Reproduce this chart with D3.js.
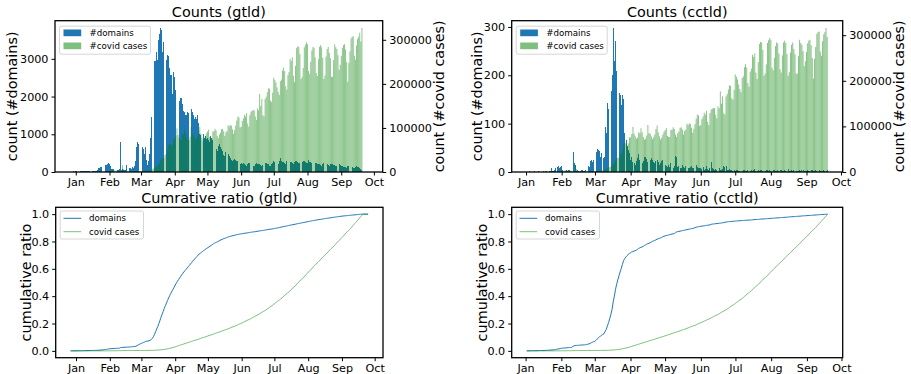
<!DOCTYPE html>
<html><head><meta charset="utf-8">
<script src="https://cdn.jsdelivr.net/npm/d3@7/dist/d3.min.js"></script>
<style>
body{margin:0;background:#fff}
svg{display:block}
text{font-family:"DejaVu Sans",sans-serif;fill:#000}
</style>
</head><body>
<svg id="c" width="911" height="374"></svg>
<script>
// ---------------- data ----------------
const monthLabels = ["Jan","Feb","Mar","Apr","May","Jun","Jul","Aug","Sep","Oct"];
const countTicksGtld = [0,1000,2000,3000];
const countTicksCctld = [0,100,200,300];
const covidTicks = [0,100000,200000,300000];
const ratioTicks = [0,0.2,0.4,0.6,0.8,1.0];
const seriesNames = {domainsBar:"#domains", covidBar:"#covid cases", domainsLine:"domains", covidLine:"covid cases"};

// gTLD: daily new domains, 2019-12-27 .. 2020-09-25
const gtldStart = "2019-12-27";
const gtldDomains = [
 10,8,12,15,10,
 25,30,28,22,20,25,30,32,28,25,30,35,30,28,25,30,35,38,32,30,40,95,110,120,140,150,160,175,190,210,230,
 220,150,90,80,70,60,75,60,55,70,790,60,70,55,60,50,180,60,100,110,90,120,110,160,300,660,790,750,620,
 445,660,600,470,660,310,180,300,490,900,1450,1880,2930,2950,3190,2960,3500,3670,3820,3760,3190,3450,3450,2960,3100,3080,2760,2560,2560,2060,2650,
 2510,2170,2100,2060,1880,1950,1970,1800,1620,1580,1520,1500,1580,1560,1540,1670,1600,1500,1400,1450,1400,1500,1300,1010,970,1000,1010,900,950,880,
 900,850,800,950,900,850,800,750,600,550,700,750,650,600,550,450,420,530,500,480,420,380,320,300,310,350,330,300,280,230,220,
 230,210,240,200,180,160,220,250,230,210,190,170,150,200,240,220,210,200,180,160,190,230,250,240,220,200,170,160,210,240,
 280,260,250,230,210,290,360,300,270,260,240,220,280,310,290,270,260,240,220,270,300,280,260,250,230,210,260,290,280,270,250,
 230,310,270,260,240,220,200,250,230,220,210,200,180,170,220,240,230,210,200,180,170,210,220,200,190,180,160,150,190,200,180,
 170,150,140,130,120,110,150,160,140,130,120,110,100,130,150,140,120,110,90,60,10,5,3,2,1
];

// ccTLD: daily new domains, 2020-01-02 .. 2020-09-19
const cctldStart = "2020-01-02";
const cctldDomains = [
 1,0,2,1,0,1,2,1,0,1,2,1,1,0,2,1,3,2,1,2,3,8,2,3,4,8,10,12,8,10,
 12,4,5,3,4,3,5,4,3,4,42,18,15,3,4,2,3,5,4,3,2,4,12,12,10,22,24,20,25,
 10,42,47,45,44,32,39,28,30,94,80,142,130,160,167,201,298,229,270,208,170,163,160,139,160,150,80,67,53,45,40,
 25,32,20,18,15,22,28,37,25,20,18,22,30,32,26,20,15,24,28,25,20,18,22,25,20,15,18,22,25,20,
 15,12,10,14,11,18,10,8,12,33,30,10,12,9,8,14,10,8,12,11,9,8,10,12,9,8,25,14,10,8,9,
 8,6,10,5,7,12,6,5,8,21,9,6,5,7,4,6,8,5,4,6,12,10,12,5,4,6,5,4,3,5,
 3,4,5,3,2,4,3,5,4,3,2,4,3,2,5,3,4,6,3,2,4,3,5,4,3,2,3,4,5,3,4,
 3,2,4,5,3,2,4,3,5,4,3,2,4,3,5,6,3,2,4,3,4,5,3,2,3,4,3,5,4,3,2,
 3,4,2,3,5,4,3,2,4,3,5,4,3,2,3,4,3,2,4
];

// daily new covid cases (thousands), 2020-01-01 .. 2020-09-20
const covidStart = "2020-01-01";
const covidCasesK = [
 0,0,0,0,0,0,0,
 0,0,0,0,0,0,0,
 0,0,0,0,0,0,0.1,
 0.5,0.3,0.3,0.7,0.7,0.8,1.5,
 1.7,2.0,2.1,2.6,2.8,3.2,3.9,
 3.7,3.2,3.4,2.7,3.0,2.5,2.0,
 2.0,15.1,6.5,2.1,2.1,2.0,1.9,
 0.6,0.6,1.0,0.6,0.8,0.6,0.8,
 0.9,1.1,1.3,1.8,1.7,2.0,2.4,
 2.3,2.8,3.8,4.0,4.0,3.8,4.5,
 7.0,7.5,10.0,11.0,13.5,14.5,17.0,
 21,26,31,31,32,39,40,
 49,61,63,63,58,63,76,
 76,83,99,84,78,73,75,
 87,85,96,87,77,71,73,
 80,103,85,84,78,72,76,
 82,94,102,87,78,71,75,
 82,88,92,96,79,77,77,
 92,93,98,94,82,77,85,
 89,97,98,93,82,90,93,
 106,103,107,105,97,86,95,
 105,117,126,124,101,103,116,
 122,130,126,134,110,103,129,
 137,139,140,140,126,118,144,
 140,177,150,166,129,126,166,
 171,181,190,189,162,159,180,
 214,209,203,192,182,175,206,
 210,230,237,229,195,187,220,
 227,257,252,260,218,204,241,
 281,285,284,268,211,216,236,
 283,289,294,290,229,223,250,
 276,284,282,260,225,218,256,
 284,288,283,259,211,219,262,
 279,284,270,258,216,216,254,
 290,283,279,265,232,243,263,
 282,288,290,278,250,205,248,
 274,303,307,308,264,255,287,
 302,307,316,296,327
];

// ---------------- helpers ----------------
const DAY = 864e5;
const BLUE = "#1f77b4", GREEN = "green";
const svg = d3.select("#c");
function dates(start, n){ const t0 = Date.parse(start + "T00:00:00Z"); return d3.range(n).map(i => new Date(t0 + i*DAY)); }
const gDates = dates(gtldStart, gtldDomains.length);
const cDates = dates(cctldStart, cctldDomains.length);
const covDates = dates(covidStart, covidCasesK.length);
const covid = covidCasesK.map(v => v*1000);
const covMap = new Map(covDates.map((d,i) => [+d, covid[i]]));
const monthTicks = monthLabels.map((m,i) => new Date(Date.UTC(2020, i, 1)));

function xScaleFor(dts, pad, x0, x1){
  const a = +dts[0] - pad*DAY, b = +dts[dts.length-1] + pad*DAY, m = (b-a)*0.05;
  return d3.scaleUtc().domain([new Date(a-m), new Date(b+m)]).range([x0, x1]);
}

function styleAxis(g){
  g.select(".domain").remove();
  g.selectAll(".tick line").attr("stroke","#000").attr("stroke-width",1);
  g.selectAll(".tick text").attr("font-size","11.2px").attr("fill","#000").attr("font-family","DejaVu Sans");
}

function xAxis(g, x, B){
  const a = g.append("g").attr("transform",`translate(0,${B})`)
    .call(d3.axisBottom(x).tickValues(monthTicks).tickFormat((d,i)=>monthLabels[i]).tickSize(3.5).tickPadding(2.5).tickSizeOuter(0));
  styleAxis(a);
}

function frame(g, L, R, T, B){
  g.append("rect").attr("x",L).attr("y",T).attr("width",R-L).attr("height",B-T)
    .attr("fill","none").attr("stroke","#000").attr("stroke-width",1.3);
}

function title(g, txt, L, R, T){
  g.append("text").attr("x",(L+R)/2).attr("y",T-4).attr("text-anchor","middle").attr("font-size","14.4px").text(txt);
}
function ylabel(g, txt, xc, T, B){
  g.append("text").attr("transform",`translate(${xc},${(T+B)/2}) rotate(-90)`)
    .attr("text-anchor","middle").attr("font-size","14.4px").text(txt);
}

function legendBox(g, x0, y0, w){
  g.append("rect").attr("x",x0).attr("y",y0).attr("width",w).attr("height",28).attr("rx",2)
    .attr("fill","#fff").attr("fill-opacity",0.8).attr("stroke","#cccccc").attr("stroke-width",0.8);
}

// ---------------- counts panels ----------------
function countsPanel(o){
  const {L,R,T,B} = o;
  const g = svg.append("g");
  const x = xScaleFor(o.dates, 0.4, L, R);
  const y = d3.scaleLinear().domain([0, d3.max(o.values)*1.05]).range([B,T]);
  const first = +o.dates[0], last = +o.dates[o.dates.length-1];
  const cov = covDates.map((d,i)=>({d, v:covid[i]})).filter(p => +p.d >= first && +p.d <= last);
  const y2 = d3.scaleLinear().domain([0, d3.max(cov, p=>p.v)*1.05]).range([B,T]);
  const x0 = d => x(new Date(+d - 0.4*DAY)), x1 = d => x(new Date(+d + 0.4*DAY));

  g.append("g").attr("shape-rendering","crispEdges").selectAll("rect")
    .data(o.dates.map((d,i)=>({d, v:o.values[i]})))
    .join("rect").attr("x",p=>x0(p.d)).attr("width",p=>x1(p.d)-x0(p.d))
    .attr("y",p=>y(p.v)).attr("height",p=>B-y(p.v)).attr("fill",BLUE);

  g.append("g").selectAll("rect").data(cov)
    .join("rect").attr("x",p=>x0(p.d)).attr("width",p=>x1(p.d)-x0(p.d))
    .attr("y",p=>y2(p.v)).attr("height",p=>B-y2(p.v)).attr("fill",GREEN).attr("fill-opacity",0.5);

  frame(g, L, R, T, B);
  xAxis(g, x, B);
  const ya = g.append("g").attr("transform",`translate(${L},0)`)
    .call(d3.axisLeft(y).tickValues(o.ticks).tickFormat(d3.format("d")).tickSize(3.5).tickPadding(3));
  styleAxis(ya);
  const yb = g.append("g").attr("transform",`translate(${R},0)`)
    .call(d3.axisRight(y2).tickValues(covidTicks).tickFormat(d3.format("d")).tickSize(3.5).tickPadding(3));
  styleAxis(yb);

  title(g, o.title, L, R, T);
  ylabel(g, "count (#domains)", o.ylx, T, B);
  ylabel(g, "count (#covid cases)", o.yrx, T, B);

  // legend
  const lx = L + 4.5, ly = T + 5.5;
  legendBox(g, lx, ly, 91);
  [[seriesNames.domainsBar, BLUE, 1],[seriesNames.covidBar, GREEN, 0.5]].forEach((s,i)=>{
    g.append("rect").attr("x",lx+4).attr("y",ly+3.3+i*13).attr("width",17.7).attr("height",6.7)
      .attr("fill",s[1]).attr("fill-opacity",s[2]);
    g.append("text").attr("x",lx+30).attr("y",ly+9.9+i*13).attr("font-size","8.7px").attr("fill","#222").text(s[0]);
  });
}

// ---------------- ratio panels ----------------
function ratioPanel(o){
  const {L,R,T,B} = o;
  const g = svg.append("g");
  const x = xScaleFor(o.dates, 0, L, R);
  const y = d3.scaleLinear().domain([-0.05, 1.05]).range([B,T]);
  const dTot = d3.sum(o.values);
  const cv = o.dates.map(d => covMap.get(+d) || 0);
  const cTot = d3.sum(cv);
  const dc = d3.cumsum(o.values), cc = d3.cumsum(cv);
  const dPts = o.dates.map((d,i)=>({d, r: dc[i]/dTot}));
  const cPts = o.dates.map((d,i)=>({d, r: cc[i]/cTot}));
  const line = d3.line().x(p=>x(p.d)).y(p=>y(p.r));
  g.append("path").attr("d",line(dPts)).attr("fill","none").attr("stroke",BLUE).attr("stroke-width",1);
  g.append("path").attr("d",line(cPts)).attr("fill","none").attr("stroke",GREEN).attr("stroke-opacity",0.5).attr("stroke-width",1);

  frame(g, L, R, T, B);
  xAxis(g, x, B);
  const ya = g.append("g").attr("transform",`translate(${L},0)`)
    .call(d3.axisLeft(y).tickValues(ratioTicks).tickFormat(d3.format(".1f")).tickSize(3.5).tickPadding(3));
  styleAxis(ya);
  title(g, o.title, L, R, T);
  ylabel(g, "cumulative ratio", o.ylx, T, B);

  const lx = L + 4.5, ly = T + 3.7;
  legendBox(g, lx, ly, 83.3);
  [[seriesNames.domainsLine, BLUE, 1],[seriesNames.covidLine, GREEN, 0.5]].forEach((s,i)=>{
    g.append("line").attr("x1",lx+3.3).attr("x2",lx+21).attr("y1",ly+7.3+i*13.4).attr("y2",ly+7.3+i*13.4)
      .attr("stroke",s[1]).attr("stroke-opacity",s[2]).attr("stroke-width",1);
    g.append("text").attr("x",lx+28.7).attr("y",ly+10.4+i*13.4).attr("font-size","8.7px").attr("fill","#222").text(s[0]);
  });
}

countsPanel({title:"Counts (gtld)", dates:gDates, values:gtldDomains, ticks:countTicksGtld,
  L:55, R:382.7, T:20.7, B:172, ylx:17, yrx:443.5});
countsPanel({title:"Counts (cctld)", dates:cDates, values:cctldDomains, ticks:countTicksCctld,
  L:511.7, R:842.7, T:20.7, B:172, ylx:481.7, yrx:903.5});
ratioPanel({title:"Cumrative ratio (gtld)", dates:gDates, values:gtldDomains,
  L:55.7, R:383, T:207.3, B:357.7, ylx:31});
ratioPanel({title:"Cumrative ratio (cctld)", dates:cDates, values:cctldDomains,
  L:511.7, R:842.7, T:207.3, B:357.7, ylx:486.5});
</script>
</body></html>
